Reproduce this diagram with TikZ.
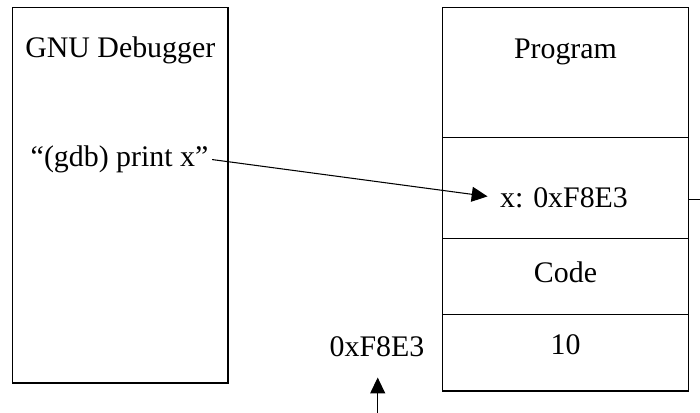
\documentclass[tikz,border=0pt]{standalone}
\usepackage{fontspec}
\setmainfont{Liberation Serif}
\usetikzlibrary{positioning,arrows.meta}

\tikzset{
	cell/.style={draw,line width=.6pt,minimum width=4.912cm,inner sep=0,outer sep=0},
	lbl/.style={font=\fontsize{17}{20}\selectfont,inner sep=2pt,anchor=base},
	ptr/.style={line width=.6pt,-{Triangle[length=9pt,width=8.5pt]}}
}

\begin{document}
\begin{tikzpicture}
\useasboundingbox (0,0) rectangle (14,8.26);

% debugger side
\node[cell,minimum width=4.31cm,minimum height=7.514cm] (dbg) at (2.405,4.357) {};
\node[lbl] (dbgname) at (2.405,7.11) {GNU Debugger};
\node[lbl] (cmd) at (2.39,4.926) {“(gdb) print x”};

% program memory
\node[cell,minimum height=2.602cm] (prog) at (11.31,6.813) {};
\node[cell,minimum height=2.018cm,below=0cm of prog] (vars) {};
\node[cell,minimum height=1.528cm,below=0cm of vars] (code) {};
\node[cell,minimum height=1.526cm,below=0cm of code] (val) {};

\node[lbl] (progname) at (11.31,7.094) {Program};
\node[lbl] (xvar) at (11.28,4.114) {x: 0xF8E3};
\node[lbl] (codename) at (11.31,2.614) {Code};
\node[lbl] (ten) at (11.31,1.16) {10};
\node[lbl] (addr) at (7.54,1.126) {0xF8E3};

\coordinate (off) at (14,4.274);
\coordinate (up) at (7.554,0);

\draw[ptr,shorten >=5pt] (cmd.east) -- (xvar.west);
\draw[line width=.6pt] (vars.east |- off) -- (off);
\draw[ptr,shorten >=9.5pt] (up) -- (up |- addr.south);
\end{tikzpicture}
\end{document}
